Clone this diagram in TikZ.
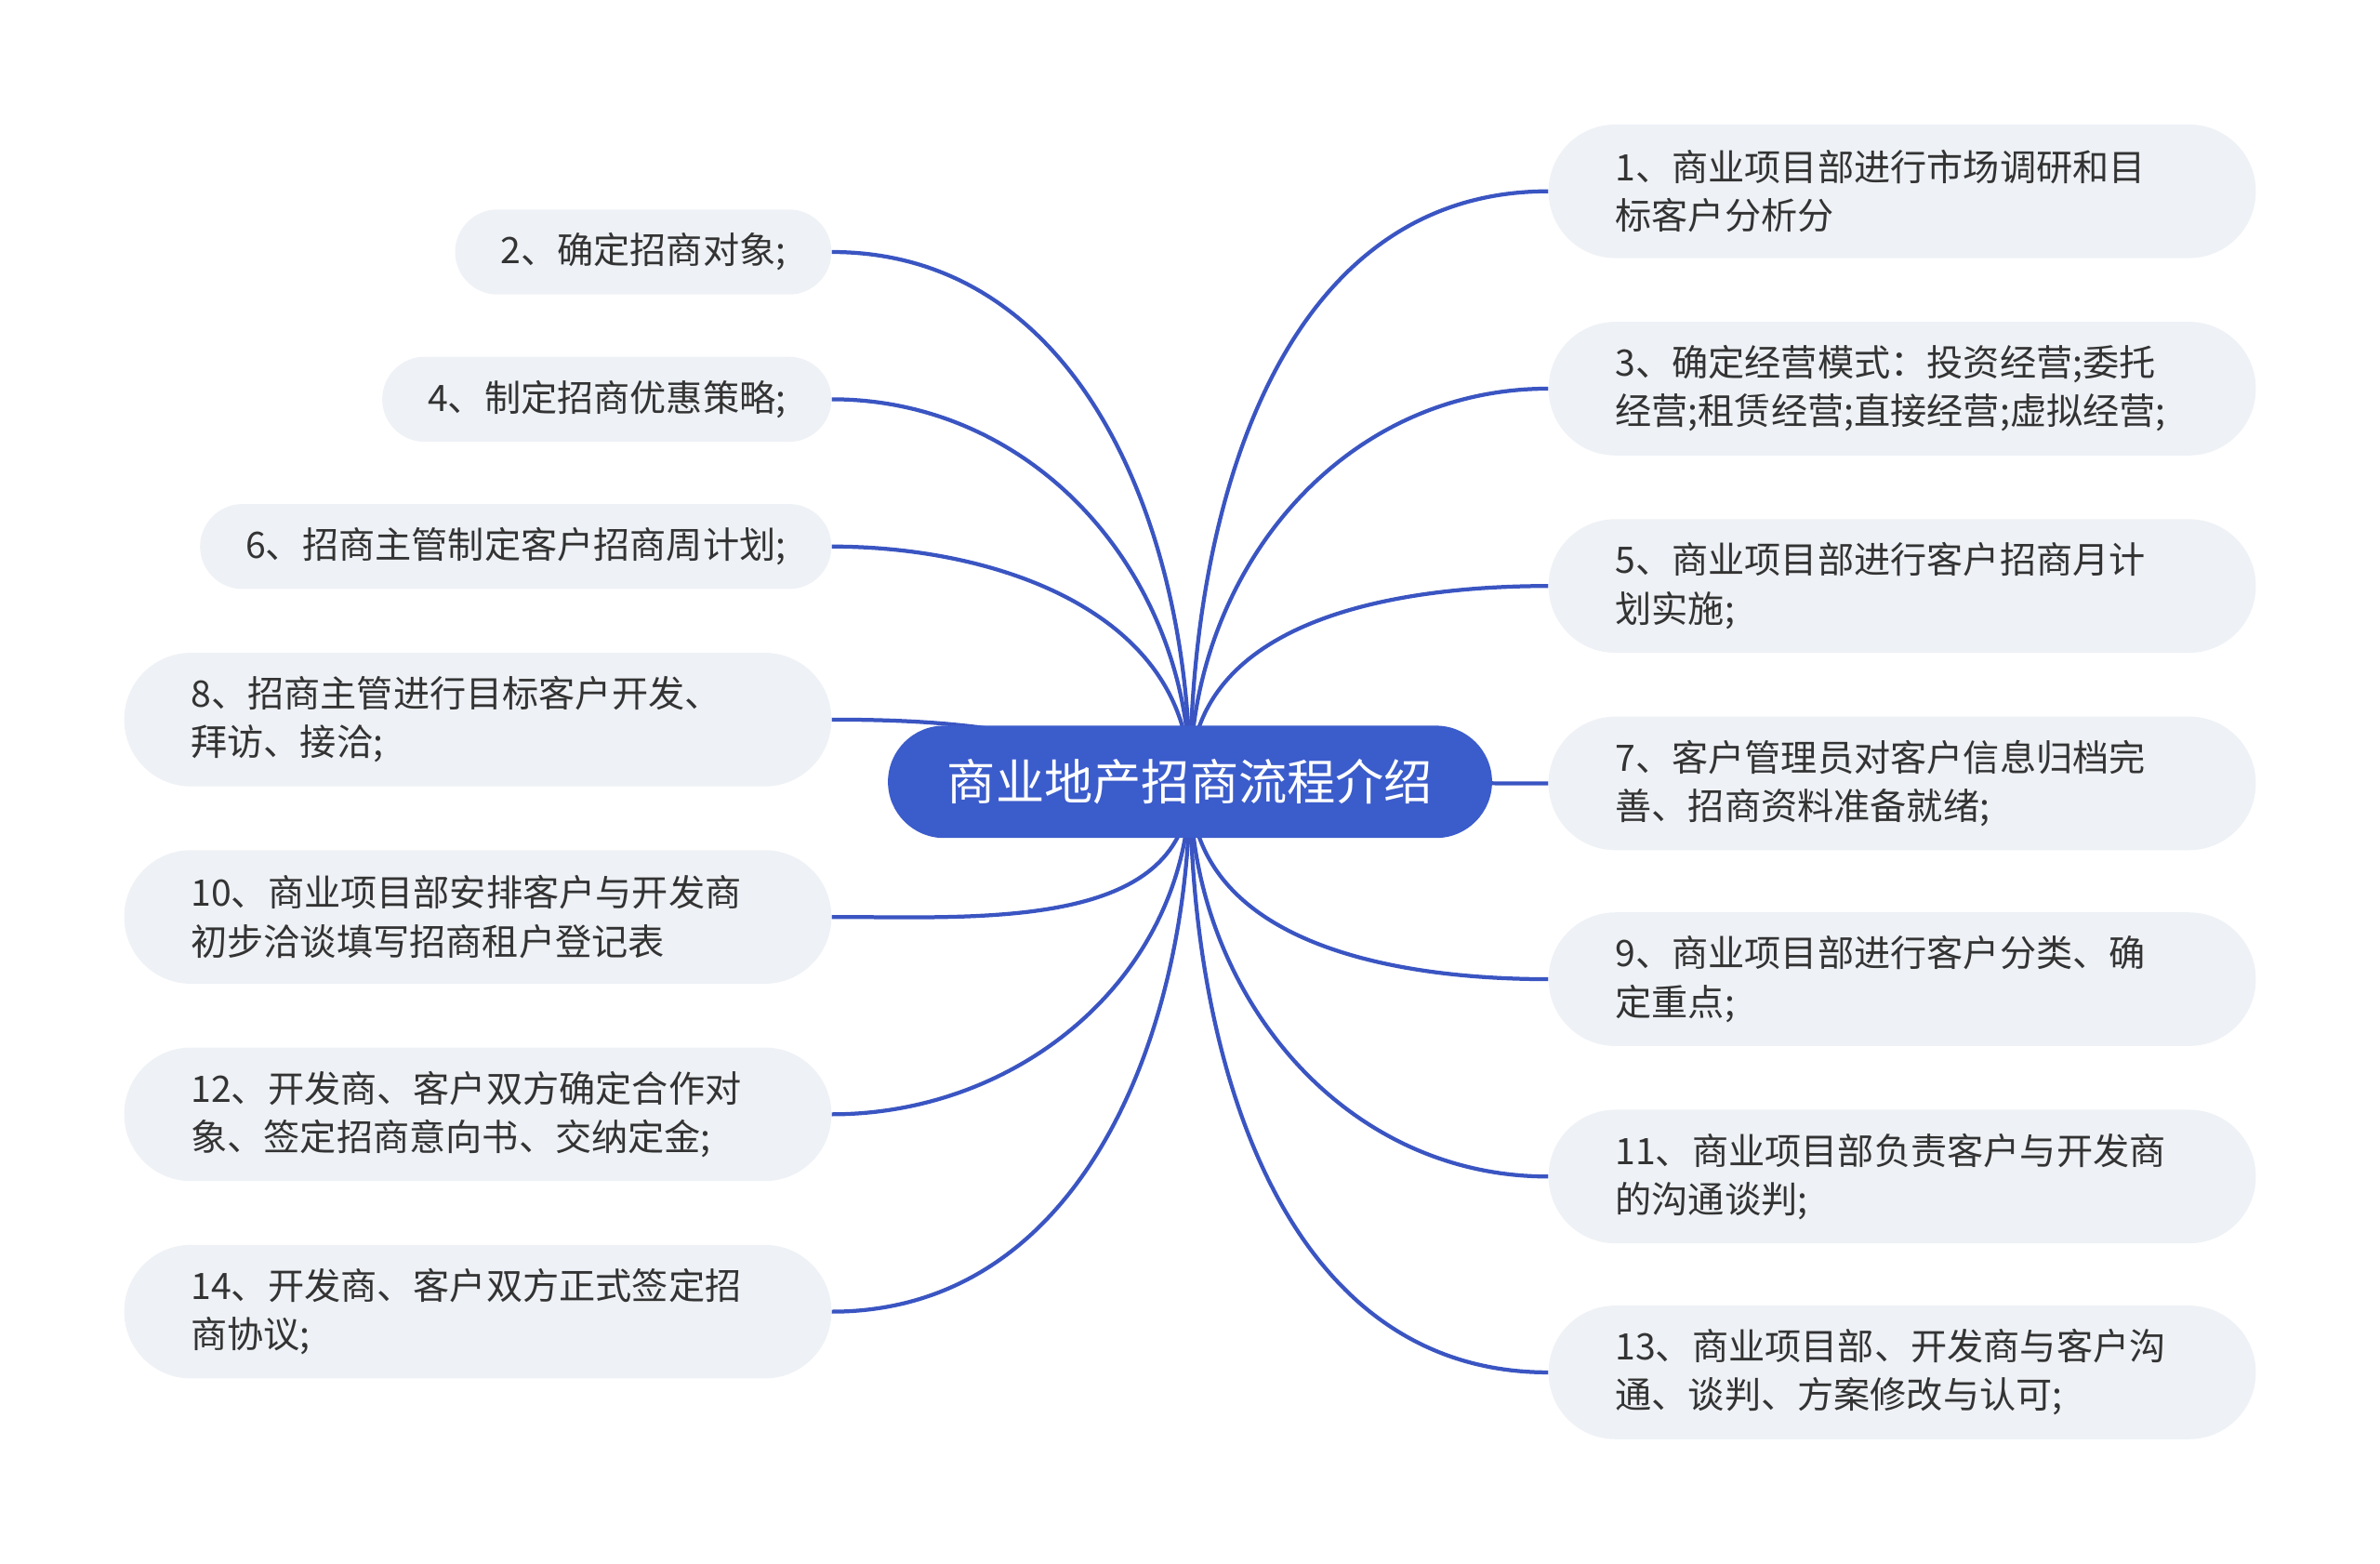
\documentclass[tikz,border=0pt]{standalone}
\usepackage{fontspec}
\setmainfont{Noto Sans CJK SC}
\usetikzlibrary{backgrounds}
\definecolor{rootblue}{HTML}{3B5CCB}
\definecolor{linkblue}{HTML}{3A55C2}
\definecolor{leafgray}{HTML}{EEF1F5}
\definecolor{leaftext}{HTML}{333333}

\begin{document}
\begin{tikzpicture}[x=1pt,y=-1pt,
  topic/.style={fill=rootblue, text=white, rounded corners=37pt, minimum width=398pt, minimum height=74pt, font=\fontsize{32}{40}\selectfont},
  leaf/.style={fill=leafgray, text=leaftext, font=\fontsize{24}{32}\selectfont, align=left},
  wideleaf/.style={leaf, text width=378pt, inner xsep=44pt, minimum height=88pt, rounded corners=44pt},
  shortleaf/.style={leaf, inner xsep=30pt, minimum height=56pt, rounded corners=28pt, anchor=east},
  link/.style={draw=linkblue, line width=2.6pt}]
\useasboundingbox (0,0) rectangle (1568,1030);
\node [topic] (root) at (784,515) {商业地产招商流程介绍};
% right side
\node [wideleaf, anchor=west] (r1) at (1020,126) {1、商业项目部进行市场调研和目\\标客户分析分};
\node [wideleaf, anchor=west] (r3) at (1020,256) {3、确定经营模式：投资经营;委托\\经营;租赁经营;直接经营;虚拟经营;};
\node [wideleaf, anchor=west] (r5) at (1020,386) {5、商业项目部进行客户招商月计\\划实施;};
\node [wideleaf, anchor=west] (r7) at (1020,516) {7、客户管理员对客户信息归档完\\善、招商资料准备就绪;};
\node [wideleaf, anchor=west] (r9) at (1020,645) {9、商业项目部进行客户分类、确\\定重点;};
\node [wideleaf, anchor=west] (r11) at (1020,775) {11、商业项目部负责客户与开发商\\的沟通谈判;};
\node [wideleaf, anchor=west] (r13) at (1020,904) {13、商业项目部、开发商与客户沟\\通、谈判、方案修改与认可;};
% left side
\node [shortleaf] (l2) at (548,166) {2、确定招商对象;};
\node [shortleaf] (l4) at (548,263) {4、制定招商优惠策略;};
\node [shortleaf] (l6) at (548,360) {6、招商主管制定客户招商周计划;};
\node [wideleaf, anchor=east] (l8) at (548,474) {8、招商主管进行目标客户开发、\\拜访、接洽;};
\node [wideleaf, anchor=east] (l10) at (548,604) {10、商业项目部安排客户与开发商\\初步洽谈填写招商租户登记表};
\node [wideleaf, anchor=east] (l12) at (548,734) {12、开发商、客户双方确定合作对\\象、签定招商意向书、交纳定金;};
\node [wideleaf, anchor=east] (l14) at (548,864) {14、开发商、客户双方正式签定招\\商协议;};
\begin{scope}[on background layer]
\path[link]
 (root.center) edge[out=90,in=180] (r1.west)
 (root.center) edge[out=90,in=180] (r3.west)
 (root.center) edge[out=90,in=180] (r5.west)
 (root.center) edge[out=0,in=180] (r7.west)
 (root.center) edge[out=270,in=180] (r9.west)
 (root.center) edge[out=270,in=180] (r11.west)
 (root.center) edge[out=270,in=180] (r13.west)
 (root.center) edge[out=90,in=0] (l2.east)
 (root.center) edge[out=90,in=0] (l4.east)
 (root.center) edge[out=90,in=0] (l6.east)
 (root.center) edge[out=160,in=0] (l8.east)
 (root.center) edge[out=270,in=0] (l10.east)
 (root.center) edge[out=270,in=0] (l12.east)
 (root.center) edge[out=270,in=0] (l14.east);
\end{scope}
\end{tikzpicture}
\end{document}
